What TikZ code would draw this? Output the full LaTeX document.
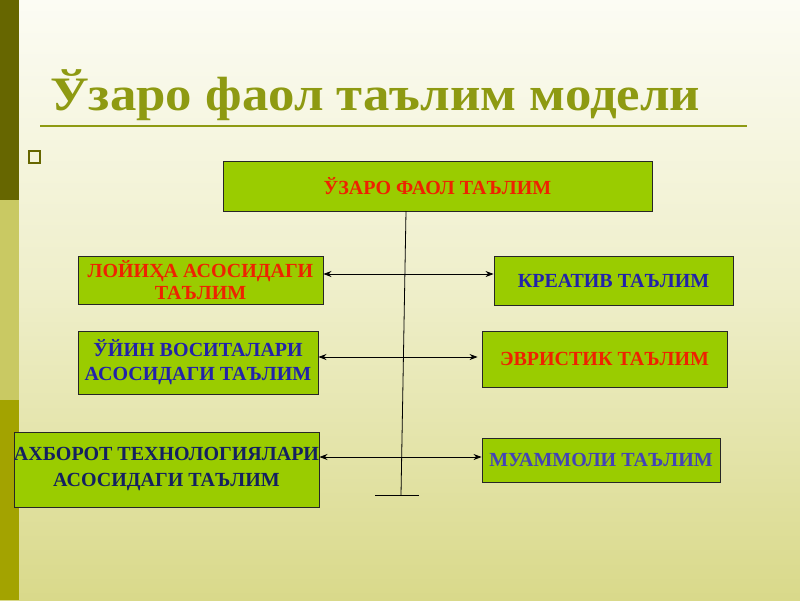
\documentclass[tikz,border=0pt]{standalone}
\usepackage{fontspec}
\setmainfont{Liberation Serif}
\usetikzlibrary{arrows.meta}
\definecolor{bgtop}{HTML}{FCFCF4}
\definecolor{bgmid}{HTML}{EEEEC8}
\definecolor{bgbot}{HTML}{D9D98A}
\definecolor{stripA}{HTML}{666600}
\definecolor{stripB}{HTML}{C9C963}
\definecolor{stripC}{HTML}{A3A300}
\definecolor{titlecol}{HTML}{8E9A12}
\definecolor{boxfill}{HTML}{9ACC00}
\definecolor{redtxt}{HTML}{EE2200}
\definecolor{bluetxt}{HTML}{2222AA}
\definecolor{navytxt}{HTML}{142060}
\tikzset{
  x=1pt, y=-1pt,
  tbox/.style={draw=black!85, line width=0.9pt, fill=boxfill, rectangle, inner sep=0pt,
    align=center, font=\fontsize{20}{23}\selectfont\bfseries},
  arr/.style={line width=0.7pt, {Stealth[length=8pt,width=6pt]}-{Stealth[length=8pt,width=6pt]}},
  plain/.style={line width=0.8pt}
}
\begin{document}
\begin{tikzpicture}
\useasboundingbox (0,0) rectangle (800,600);
% background
\shade[top color=bgtop, bottom color=bgmid] (0,0) rectangle (800,300);
\shade[top color=bgmid, bottom color=bgbot] (0,300) rectangle (800,600);
% left strip
\fill[stripA] (0,0) rectangle (19,200);
\fill[stripB] (0,200) rectangle (19,400);
\fill[stripC] (0,400) rectangle (19,600);
% title
\node[anchor=base west, inner sep=0pt, text=titlecol, font=\fontsize{48}{52}\selectfont\bfseries, xscale=1.1] (title) at (50,110) {Ўзаро фаол таълим модели};
\draw[titlecol, line width=1.5pt] (40,126) -- (747,126);
% bullet
\node[draw=stripA, line width=2pt, minimum width=11pt, minimum height=12pt, inner sep=0pt] (bul) at (34,157) {};
% boxes
\node[tbox, minimum width=429pt, minimum height=50pt, text=redtxt] (top) at (437.5,186) {ЎЗАРО ФАОЛ ТАЪЛИМ};
\node[tbox, minimum width=245pt, minimum height=48pt, text=redtxt, font=\fontsize{20}{22}\selectfont\bfseries] (L1) at (200.5,280) {ЛОЙИҲА АСОСИДАГИ\\ТАЪЛИМ};
\node[tbox, minimum width=240pt, minimum height=63pt, text=bluetxt, font=\fontsize{20}{24}\selectfont\bfseries] (L2) at (198,362.5) {ЎЙИН ВОСИТАЛАРИ\\АСОСИДАГИ ТАЪЛИМ};
\node[tbox, minimum width=303pt, minimum height=75pt, text=navytxt, font=\fontsize{20}{26}\selectfont\bfseries] (L3) at (166.5,469.5) {АХБОРОТ ТЕХНОЛОГИЯЛАРИ\\АСОСИДАГИ ТАЪЛИМ};
\node[tbox, minimum width=239pt, minimum height=49pt, text=bluetxt] (R1) at (613.5,280.5) {КРЕАТИВ ТАЪЛИМ};
\node[tbox, minimum width=245pt, minimum height=56pt, text=redtxt] (R2) at (604.5,359) {ЭВРИСТИК ТАЪЛИМ};
\node[tbox, minimum width=238pt, minimum height=44pt, text=bluetxt!85!white] (R3) at (601,460) {МУАММОЛИ ТАЪЛИМ};
% trunk
\coordinate (tA) at (406,211);
\coordinate (tB) at (401,495);
\coordinate (bl) at (375,495);
\coordinate (br) at (419,495);
\draw[plain] (tA) -- (tB);
\draw[plain] (bl) -- (br);
% arrows
\draw[arr] (L1.east |- 0,274) -- (R1.west |- 0,274);
\draw[arr, shorten >=4pt] (L2.east |- 0,357) -- (R2.west |- 0,357);
\draw[arr] (L3.east |- 0,457) -- (R3.west |- 0,457);
\end{tikzpicture}
\end{document}
